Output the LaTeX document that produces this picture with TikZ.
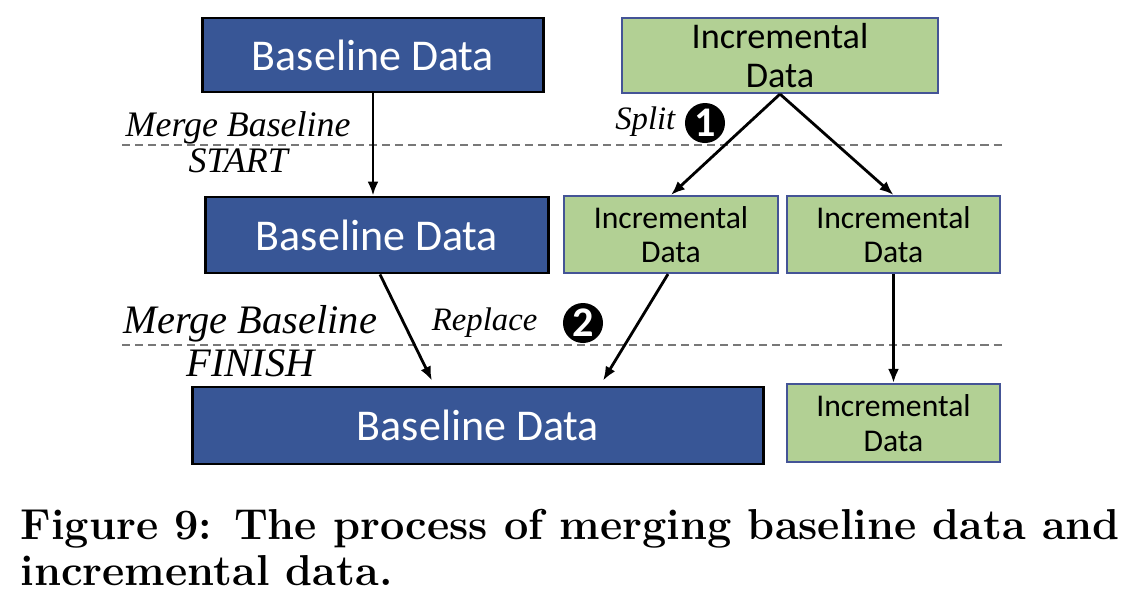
\documentclass[tikz,border=0pt]{standalone}
\usepackage{fontspec}
\setsansfont{Carlito}
\newfontfamily\labelfont{Liberation Serif}
\usepackage{xcolor}
\definecolor{basefill}{RGB}{56, 86, 150}
\definecolor{incrfill}{RGB}{178, 208, 148}
\definecolor{incrdraw}{RGB}{68, 84, 150}
\definecolor{sepgray}{RGB}{120, 120, 120}
\usetikzlibrary{arrows.meta, positioning}
\tikzset{
  basebox/.style={
    rectangle, draw=black, line width=0.8pt,
    fill=basefill, text=white,
    font=\sffamily\fontsize{12.5}{14}\selectfont,
    minimum width=#1, inner sep=0pt
  },
  incrbox/.style={
    rectangle, draw=incrdraw, line width=0.6pt,
    fill=incrfill, text=black,
    font=\sffamily\fontsize{9}{9.8}\selectfont,
    align=center, minimum width=#1, inner sep=0pt
  },
  steplabel/.style={font=\labelfont\itshape\fontsize{10.2}{12}\selectfont, inner sep=0pt},
  stepnum/.style={circle, fill=black, text=white, minimum size=0.4cm, inner sep=0pt,
    font=\sffamily\bfseries\fontsize{12}{12}\selectfont},
  sepline/.style={draw=sepgray, line width=0.5pt, dash pattern=on 0.8mm off 0.5mm},
  flow/.style={draw=black, line width=0.8pt, -{Latex[length=1.4mm, width=1.1mm]}}
}
\begin{document}
\begin{tikzpicture}[x=0.01cm, y=-0.01cm]
\useasboundingbox (0,0) rectangle (1136,596);
% Niveau 0
\node[basebox=3.4cm, minimum height=0.74cm] (base1) at (373,55) {Baseline Data};
\node[incrbox=3.16cm, minimum height=0.75cm, font=\sffamily\fontsize{10.3}{10.9}\selectfont]
  (incr1) at (780,55.5) {Incremental\\Data};
% Niveau 1
\node[basebox=3.42cm, minimum height=0.76cm] (base2) at (377,235) {Baseline Data};
\node[incrbox=2.14cm, minimum height=0.77cm] (incr2) at (671,234.5) {Incremental\\Data};
\node[incrbox=2.13cm, minimum height=0.77cm] (incr3) at (893.5,234.5) {Incremental\\Data};
% Niveau 2
\node[basebox=5.7cm, minimum height=0.77cm] (base3) at (478,425.5) {Baseline Data};
\node[incrbox=2.13cm, minimum height=0.78cm] (incr4) at (893.5,423) {Incremental\\Data};
% Separations
\draw[sepline] (122,145) -- (1003,145);
\draw[sepline] (122,345) -- (1003,345);
% Etiquettes
\node[steplabel, anchor=base west] (mstart) at (125,136) {Merge Baseline};
\node[steplabel, anchor=base west] (start) at (188,172) {START};
\node[steplabel, anchor=base west, font=\labelfont\itshape\fontsize{11.5}{13}\selectfont]
  (mfinish) at (123,333) {Merge Baseline};
\node[steplabel, anchor=base west, font=\labelfont\itshape\fontsize{11.5}{13}\selectfont]
  (finish) at (186,376) {FINISH};
\node[steplabel, anchor=base east, font=\labelfont\itshape\fontsize{9.3}{11}\selectfont]
  (split) at (676,129) {Split};
\node[stepnum] (one) at (705,123) {1};
\node[steplabel, anchor=base east, font=\labelfont\itshape\fontsize{9.3}{11}\selectfont]
  (replace) at (538,330) {Replace};
\node[stepnum] (two) at (583,323) {2};
% Connexions
\draw[flow] (base1.south) -- (base1.south |- base2.north);
\draw[flow] (incr1.south) -- (incr2.north);
\draw[flow] (incr1.south) -- (incr3.north);
\draw[flow] ([xshift=0.03cm]base2.south) -- ([xshift=-0.46cm, yshift=0.05cm]base3.north);
\draw[flow] ([xshift=-0.03cm]incr2.south) -- ([xshift=1.25cm, yshift=0.05cm]base3.north);
\draw[flow] (incr3.south) -- (incr4.north);
% Legende
\node[anchor=base west, align=left, inner sep=0pt, font=\bfseries\fontsize{12.3}{13}\selectfont]
  (caption) at (20,585) {Figure 9: The process of merging baseline data and\\incremental data.};
\end{tikzpicture}
\end{document}
